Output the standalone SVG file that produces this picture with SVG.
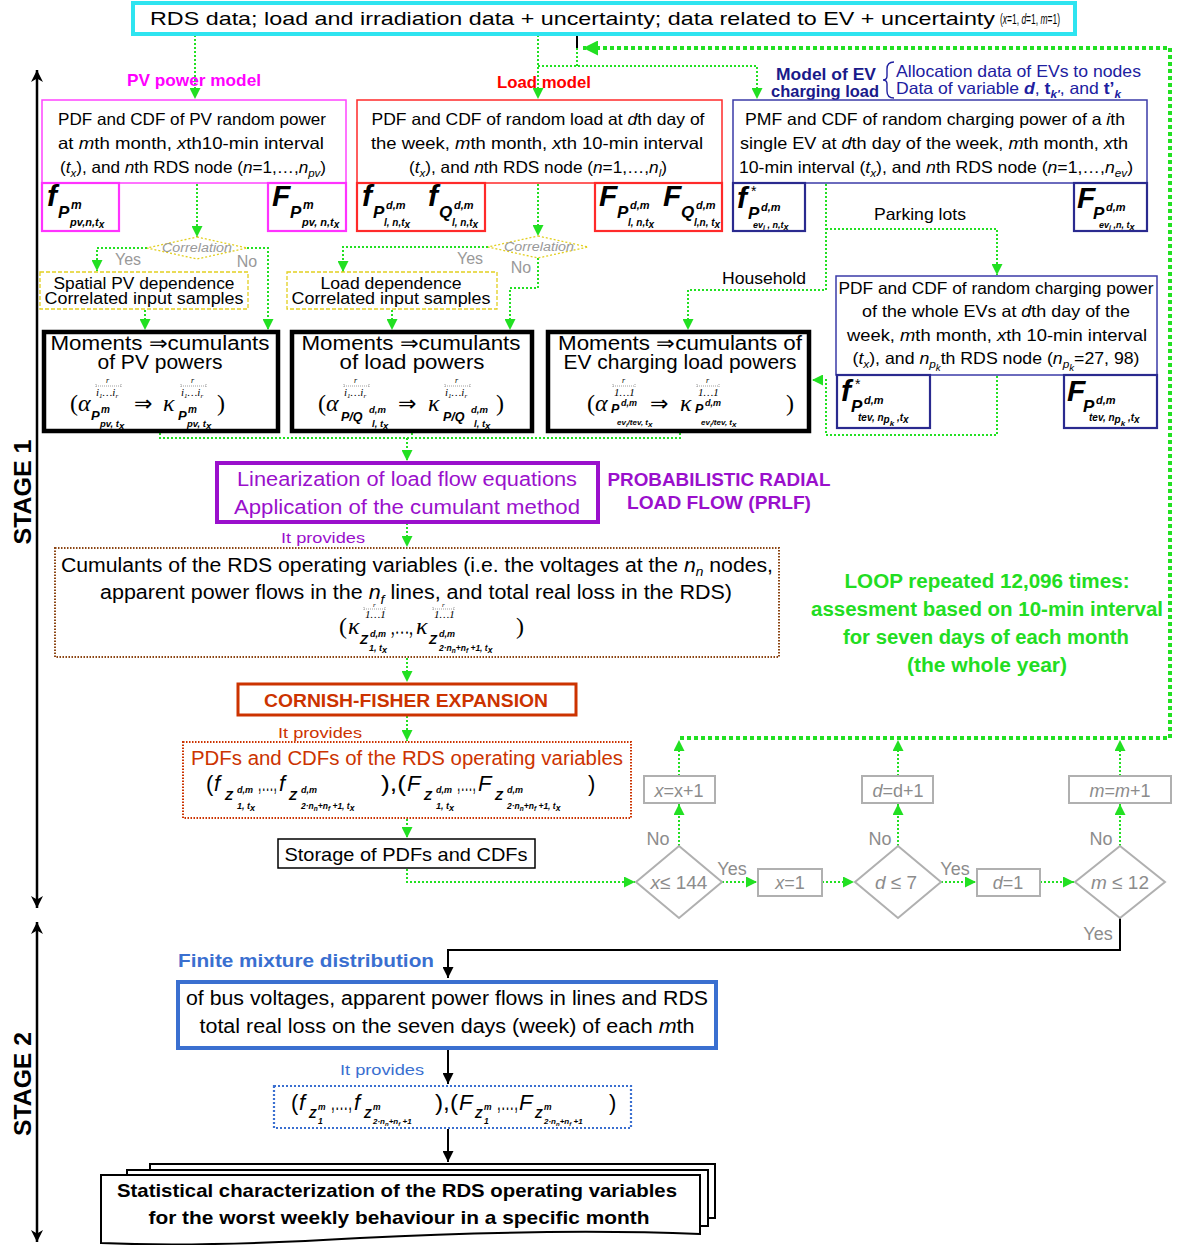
<svg xmlns="http://www.w3.org/2000/svg" width="1177" height="1245" viewBox="0 0 1177 1245">
<defs>
<marker id="ag" viewBox="0 0 10 10" refX="10" refY="5" markerWidth="11" markerHeight="11" markerUnits="userSpaceOnUse" orient="auto"><path d="M0,0L10,5L0,10z" fill="#22e022"/></marker>
<marker id="agb" viewBox="0 0 10 10" refX="10" refY="5" markerWidth="15" markerHeight="15" markerUnits="userSpaceOnUse" orient="auto"><path d="M0,0L10,5L0,10z" fill="#22e022"/></marker>
<marker id="ak" viewBox="0 0 10 10" refX="10" refY="5" markerWidth="11" markerHeight="11" markerUnits="userSpaceOnUse" orient="auto"><path d="M0,0L10,5L0,10z" fill="#000"/></marker>
<marker id="ks" viewBox="0 0 10 10" refX="10" refY="5" markerWidth="12" markerHeight="12" markerUnits="userSpaceOnUse" orient="auto-start-reverse"><path d="M0,0L10,5L0,10L3,5z" fill="#000"/></marker>
</defs>
<style>
text{font-family:"Liberation Sans",Arial,sans-serif;fill:#000}
.c{text-anchor:middle}
.e{text-anchor:end}
.i{font-style:italic}
.b{font-weight:bold}
.bi{font-weight:bold;font-style:italic}
.m{font-family:"Liberation Serif","DejaVu Serif",serif;font-style:italic}
.g{fill:none;stroke:#22e022;stroke-width:2;stroke-dasharray:2 2}
.gt{fill:none;stroke:#22e022;stroke-width:4;stroke-dasharray:4 3}
.k{fill:none;stroke:#000;stroke-width:2}
.ob{fill:none;stroke:#888;stroke-width:0.8;stroke-dasharray:1 1}
.gr{fill:#8c8c8c}
.gbox{fill:#fff;stroke:#b0b0b0;stroke-width:2}
.pv{fill:#fff;stroke:#ff44ff;stroke-width:1.5}
.pv2{fill:#fff;stroke:#ff33ff;stroke-width:2.2}
.ld{fill:#fff;stroke:#ff2a2a;stroke-width:1.5}
.ld2{fill:#fff;stroke:#ff2a2a;stroke-width:2.2}
.ev{fill:#fff;stroke:#3b3ba8;stroke-width:1.5}
.ev2{fill:#fff;stroke:#2a2a8f;stroke-width:2.2}
.ydash{fill:#fff;stroke:#e2cf20;stroke-width:1.3;stroke-dasharray:4 2}
.mom{fill:#fff;stroke:#000;stroke-width:4.5}
</style>
<rect width="1177" height="1245" fill="#fff"/>

<!-- stage arrows -->
<g id="stage1">
<line x1="37" y1="70" x2="37" y2="908" stroke="#000" stroke-width="2.5" marker-start="url(#ks)" marker-end="url(#ks)"/>
<text class="c b" font-size="24" transform="translate(31,492) rotate(-90)" textLength="105" lengthAdjust="spacingAndGlyphs">STAGE 1</text>
</g>
<g id="stage2">
<line x1="37" y1="922" x2="37" y2="1242" stroke="#000" stroke-width="2.5" marker-start="url(#ks)" marker-end="url(#ks)"/>
<text class="c b" font-size="24" transform="translate(31,1084) rotate(-90)" textLength="104" lengthAdjust="spacingAndGlyphs">STAGE 2</text>
</g>

<!-- connectors -->
<g id="connectors">
<path class="g" d="M195,35V99" marker-end="url(#ag)"/>
<path class="g" d="M538,35V99" marker-end="url(#ag)"/>
<path class="k" d="M577,35V48" stroke-width="1.5"/>
<path class="g" d="M577,48V66M538,66H757V99" marker-end="url(#ag)"/>
<path class="gt" d="M680,738H1170V48H583" marker-end="url(#agb)"/>
<path class="g" d="M679,776V740" marker-end="url(#ag)"/>
<path class="g" d="M898,776V740" marker-end="url(#ag)"/>
<path class="g" d="M1120,776V740" marker-end="url(#ag)"/>
<path class="g" d="M679,846V804" marker-end="url(#ag)"/>
<path class="g" d="M898,846V804" marker-end="url(#ag)"/>
<path class="g" d="M1120,846V804" marker-end="url(#ag)"/>
<path class="g" d="M722,882H757" marker-end="url(#ag)"/>
<path class="g" d="M822,882H854" marker-end="url(#ag)"/>
<path class="g" d="M941,882H976" marker-end="url(#ag)"/>
<path class="g" d="M1040,882H1074" marker-end="url(#ag)"/>
<path class="g" d="M407,869V882H635" marker-end="url(#ag)"/>
<path class="k" d="M1120,918V950H448V978" marker-end="url(#ak)"/>
<path class="k" d="M448,1050V1084" marker-end="url(#ak)"/>
<path class="k" d="M448,1129V1162" marker-end="url(#ak)"/>
<path class="g" d="M197,184V237" marker-end="url(#ag)"/>
<path class="g" d="M147,248H97V271" marker-end="url(#ag)"/>
<path class="g" d="M247,248H268V330" marker-end="url(#ag)"/>
<path class="g" d="M145,310V330" marker-end="url(#ag)"/>
<path class="g" d="M538,184V236" marker-end="url(#ag)"/>
<path class="g" d="M488,247H343V272" marker-end="url(#ag)"/>
<path class="g" d="M538,258V288H510V330" marker-end="url(#ag)"/>
<path class="g" d="M392,310V330" marker-end="url(#ag)"/>
<path class="g" d="M826,184V290H688V330" marker-end="url(#ag)"/>
<path class="g" d="M826,229H997V275" marker-end="url(#ag)"/>
<path class="g" d="M997,376V435H826V380H812" marker-end="url(#ag)"/>
<path class="g" d="M160,433V438H680V433M412,433V438"/>
<path class="g" d="M407,438V461" marker-end="url(#ag)"/>
<path class="g" d="M407,523V547" marker-end="url(#ag)"/>
<path class="g" d="M407,658V682" marker-end="url(#ag)"/>
<path class="g" d="M407,716V741" marker-end="url(#ag)"/>
<path class="g" d="M407,819V838" marker-end="url(#ag)"/>
</g>

<!-- top input -->
<g id="input">
<rect x="133" y="3" width="942" height="31" fill="#fff" stroke="#2ee4f0" stroke-width="4"/>
<text x="150" y="25" font-size="19" textLength="845" lengthAdjust="spacingAndGlyphs">RDS data; load and irradiation data + uncertainty; data related to EV + uncertainty</text>
<text x="1000" y="24" font-size="15" textLength="60" lengthAdjust="spacingAndGlyphs">(<tspan class="i">x</tspan>=1, <tspan class="i">d</tspan>=1, <tspan class="i">m</tspan>=1)</text>
</g>

<!-- labels of models -->
<g id="pv-label"><text class="c b" x="194" y="86" font-size="16.5" textLength="134" lengthAdjust="spacingAndGlyphs" style="fill:#ff00ff">PV power model</text></g>
<g id="load-label"><text class="c b" x="544" y="88" font-size="16.5" style="fill:#ff0000" textLength="94" lengthAdjust="spacingAndGlyphs">Load model</text></g>
<g id="ev-label">
<text class="e b" x="876" y="80" font-size="16.5" style="fill:#1a1a8a" textLength="100" lengthAdjust="spacingAndGlyphs">Model of EV</text>
<text class="e b" x="879" y="97" font-size="16.5" style="fill:#1a1a8a" textLength="108" lengthAdjust="spacingAndGlyphs">charging load</text>
<path d="M894,62Q887,62 887,69V76Q887,80 883,80Q887,80 887,84V91Q887,98 894,98" fill="none" stroke="#2020a0" stroke-width="1.4"/>
<text x="896" y="77" font-size="16.5" style="fill:#2020a0" textLength="245" lengthAdjust="spacingAndGlyphs">Allocation data of EVs to nodes</text>
<text x="896" y="94" font-size="16.5" style="fill:#2020a0" textLength="225" lengthAdjust="spacingAndGlyphs">Data of variable <tspan class="bi">d</tspan>, <tspan class="b">t</tspan><tspan class="bi" font-size="11" dy="4">k'</tspan><tspan dy="-4">, and </tspan><tspan class="b">t’</tspan><tspan class="bi" font-size="11" dy="4">k</tspan></text>
</g>

<!-- PV PDF box -->
<g id="pv-pdf">
<rect class="pv" x="42" y="100" width="304" height="83"/>
<text class="c" x="192" y="125" font-size="16.5" textLength="268" lengthAdjust="spacingAndGlyphs">PDF and CDF of PV random power</text>
<text class="c" x="191" y="149" font-size="16.5" textLength="266" lengthAdjust="spacingAndGlyphs">at <tspan class="i">m</tspan>th month, <tspan class="i">x</tspan>th10-min interval</text>
<text class="c" x="193" y="173" font-size="16.5" textLength="266" lengthAdjust="spacingAndGlyphs">(<tspan class="i">t</tspan><tspan class="i" font-size="11" dy="4">x</tspan><tspan dy="-4">), and </tspan><tspan class="i">n</tspan>th RDS node (<tspan class="i">n</tspan>=1,…,<tspan class="i">n</tspan><tspan class="i" font-size="11" dy="4">pv</tspan><tspan dy="-4">)</tspan></text>
</g>
<g id="pv-f">
<rect class="pv2" x="42" y="183" width="77" height="48"/>
<text class="bi" x="47" y="206" font-size="30">f</text>
<text class="bi" x="58" y="218" font-size="17">P</text>
<text class="bi" x="71" y="209" font-size="12">m</text>
<text class="bi" x="70" y="226" font-size="11">pv,n,t<tspan font-size="10" dy="2">x</tspan></text>
</g>
<g id="pv-F">
<rect class="pv2" x="268" y="183" width="78" height="48"/>
<text class="bi" x="272" y="206" font-size="30">F</text>
<text class="bi" x="290" y="218" font-size="17">P</text>
<text class="bi" x="303" y="209" font-size="12">m</text>
<text class="bi" x="302" y="226" font-size="11">pv, n,t<tspan font-size="10" dy="2">x</tspan></text>
</g>

<!-- Load PDF box -->
<g id="load-pdf">
<rect class="ld" x="357" y="100" width="365" height="83"/>
<text class="c" x="538" y="125" font-size="16.5" textLength="333" lengthAdjust="spacingAndGlyphs">PDF and CDF of random load at <tspan class="i">d</tspan>th day of</text>
<text class="c" x="537" y="149" font-size="16.5" textLength="332" lengthAdjust="spacingAndGlyphs">the week, <tspan class="i">m</tspan>th month, <tspan class="i">x</tspan>th 10-min interval</text>
<text class="c" x="538" y="173" font-size="16.5" textLength="258" lengthAdjust="spacingAndGlyphs">(<tspan class="i">t</tspan><tspan class="i" font-size="11" dy="4">x</tspan><tspan dy="-4">), and </tspan><tspan class="i">n</tspan>th RDS node (<tspan class="i">n</tspan>=1,…,<tspan class="i">n</tspan><tspan class="i" font-size="11" dy="4">l</tspan><tspan dy="-4">)</tspan></text>
</g>
<g id="load-f">
<rect class="ld2" x="357" y="183" width="128" height="48"/>
<text class="bi" x="362" y="206" font-size="30">f</text>
<text class="bi" x="373" y="218" font-size="17">P</text>
<text class="bi" x="386" y="209" font-size="11">d,m</text>
<text class="bi" x="384" y="226" font-size="10">l, n,t<tspan font-size="10" dy="2">x</tspan></text>
<text class="bi" x="428" y="206" font-size="30">f</text>
<text class="bi" x="439" y="218" font-size="17">Q</text>
<text class="bi" x="454" y="209" font-size="11">d,m</text>
<text class="bi" x="452" y="226" font-size="10">l, n,t<tspan font-size="10" dy="2">x</tspan></text>
</g>
<g id="load-F">
<rect class="ld2" x="595" y="183" width="127" height="48"/>
<text class="bi" x="599" y="206" font-size="30">F</text>
<text class="bi" x="617" y="218" font-size="17">P</text>
<text class="bi" x="630" y="209" font-size="11">d,m</text>
<text class="bi" x="628" y="226" font-size="10">l, n,t<tspan font-size="10" dy="2">x</tspan></text>
<text class="bi" x="663" y="206" font-size="30">F</text>
<text class="bi" x="681" y="218" font-size="17">Q</text>
<text class="bi" x="696" y="209" font-size="11">d,m</text>
<text class="bi" x="694" y="226" font-size="10">l,n, t<tspan font-size="10" dy="2">x</tspan></text>
</g>

<!-- EV PMF box -->
<g id="ev-pmf">
<rect class="ev" x="733" y="100" width="414" height="83"/>
<text class="c" x="935" y="125" font-size="16.5" textLength="380" lengthAdjust="spacingAndGlyphs">PMF and CDF of random charging power of a <tspan class="i">i</tspan>th</text>
<text class="c" x="934" y="149" font-size="16.5" textLength="388" lengthAdjust="spacingAndGlyphs">single EV at <tspan class="i">d</tspan>th day of the week, <tspan class="i">m</tspan>th month, <tspan class="i">x</tspan>th</text>
<text class="c" x="936" y="173" font-size="16.5" textLength="394" lengthAdjust="spacingAndGlyphs">10-min interval (<tspan class="i">t</tspan><tspan class="i" font-size="11" dy="4">x</tspan><tspan dy="-4">), and </tspan><tspan class="i">n</tspan>th RDS node (<tspan class="i">n</tspan>=1,…,<tspan class="i">n</tspan><tspan class="i" font-size="11" dy="4">ev</tspan><tspan dy="-4">)</tspan></text>
</g>
<g id="ev-f">
<rect class="ev2" x="733" y="183" width="72" height="48"/>
<text class="bi" x="737" y="208" font-size="30">f</text>
<text x="751" y="196" font-size="14">*</text>
<text class="bi" x="748" y="219" font-size="17">P</text>
<text class="bi" x="761" y="211" font-size="11">d,m</text>
<text class="bi" x="753" y="228" font-size="9">ev<tspan font-size="7" dy="2">i</tspan><tspan dy="-2"> , n,t</tspan><tspan font-size="9" dy="2">x</tspan></text>
</g>
<g id="ev-F">
<rect class="ev2" x="1074" y="183" width="73" height="48"/>
<text class="bi" x="1077" y="208" font-size="30">F</text>
<text class="bi" x="1093" y="219" font-size="17">P</text>
<text class="bi" x="1106" y="211" font-size="11">d,m</text>
<text class="bi" x="1099" y="228" font-size="9">ev<tspan font-size="7" dy="2">i</tspan><tspan dy="-2"> ,n, t</tspan><tspan font-size="9" dy="2">x</tspan></text>
</g>

<!-- correlation decisions -->
<g id="pv-corr">
<polygon class="ydash" points="197,237 247,248 197,259 147,248" style="stroke-dasharray:2 2"/>
<text class="c i" x="197" y="252" font-size="12.5" style="fill:#999" textLength="70" lengthAdjust="spacingAndGlyphs">Correlation</text>
<text class="c" x="128" y="265" font-size="16" style="fill:#999">Yes</text>
<text class="c" x="247" y="267" font-size="16" style="fill:#999">No</text>
</g>
<g id="load-corr">
<polygon class="ydash" points="538,236 588,247 538,258 488,247" style="stroke-dasharray:2 2"/>
<text class="c i" x="539" y="251" font-size="12.5" style="fill:#999" textLength="70" lengthAdjust="spacingAndGlyphs">Correlation</text>
<text class="c" x="470" y="264" font-size="16" style="fill:#999">Yes</text>
<text class="c" x="521" y="273" font-size="16" style="fill:#999">No</text>
</g>
<g id="pv-dep">
<rect class="ydash" x="40" y="272" width="208" height="37"/>
<text class="c" x="144" y="289" font-size="16" textLength="181" lengthAdjust="spacingAndGlyphs">Spatial PV dependence</text>
<text class="c" x="144" y="304" font-size="16" textLength="199" lengthAdjust="spacingAndGlyphs">Correlated input samples</text>
</g>
<g id="load-dep">
<rect class="ydash" x="287" y="272" width="210" height="37"/>
<text class="c" x="391" y="289" font-size="16" textLength="141" lengthAdjust="spacingAndGlyphs">Load dependence</text>
<text class="c" x="391" y="304" font-size="16" textLength="199" lengthAdjust="spacingAndGlyphs">Correlated input samples</text>
</g>

<!-- EV branches -->
<g id="ev-branch-labels">
<text class="c" x="764" y="284" font-size="16.5" textLength="84" lengthAdjust="spacingAndGlyphs">Household</text>
<text class="c" x="920" y="220" font-size="16.5" textLength="92" lengthAdjust="spacingAndGlyphs">Parking lots</text>
</g>
<g id="tev-pdf">
<rect class="ev" x="836" y="276" width="321" height="99"/>
<text class="c" x="996" y="294" font-size="16.5" textLength="315" lengthAdjust="spacingAndGlyphs">PDF and CDF of random charging power</text>
<text class="c" x="996" y="317" font-size="16.5" textLength="268" lengthAdjust="spacingAndGlyphs">of the whole EVs at <tspan class="i">d</tspan>th day of the</text>
<text class="c" x="997" y="341" font-size="16.5" textLength="300" lengthAdjust="spacingAndGlyphs">week, <tspan class="i">m</tspan>th month, <tspan class="i">x</tspan>th 10-min interval</text>
<text class="c" x="996" y="364" font-size="16.5" textLength="287" lengthAdjust="spacingAndGlyphs">(<tspan class="i">t</tspan><tspan class="i" font-size="11" dy="4">x</tspan><tspan dy="-4">), and </tspan><tspan class="i">n</tspan><tspan class="i" font-size="11" dy="4">p</tspan><tspan class="i" font-size="9" dy="3">k</tspan><tspan dy="-7">th RDS node (</tspan><tspan class="i">n</tspan><tspan class="i" font-size="11" dy="4">p</tspan><tspan class="i" font-size="9" dy="3">k</tspan><tspan dy="-7">=27, 98)</tspan></text>
</g>
<g id="tev-f">
<rect class="ev2" x="837" y="375" width="93" height="53"/>
<text class="bi" x="841" y="401" font-size="30">f</text>
<text x="855" y="389" font-size="14">*</text>
<text class="bi" x="851" y="412" font-size="17">P</text>
<text class="bi" x="864" y="404" font-size="11">d,m</text>
<text class="bi" x="858" y="421" font-size="10">tev, n<tspan font-size="10" dy="2">p</tspan><tspan font-size="8" dy="3">k</tspan><tspan dy="-5"> ,t</tspan><tspan dy="2">x</tspan></text>
</g>
<g id="tev-F">
<rect class="ev2" x="1064" y="375" width="93" height="53"/>
<text class="bi" x="1067" y="401" font-size="30">F</text>
<text class="bi" x="1083" y="412" font-size="17">P</text>
<text class="bi" x="1096" y="404" font-size="11">d,m</text>
<text class="bi" x="1089" y="421" font-size="10">tev, n<tspan font-size="10" dy="2">p</tspan><tspan font-size="8" dy="3">k</tspan><tspan dy="-5"> ,t</tspan><tspan dy="2">x</tspan></text>
</g>

<!-- Moments boxes -->
<g id="mom-pv">
<rect class="mom" x="44" y="332" width="234" height="99"/>
<text class="c" x="160" y="350" font-size="20" textLength="219" lengthAdjust="spacingAndGlyphs">Moments ⇒cumulants</text>
<text class="c" x="160" y="369" font-size="20" textLength="125" lengthAdjust="spacingAndGlyphs">of PV powers</text>
<text class="m" x="70" y="411" font-size="24"><tspan style="font-style:normal">(</tspan>α</text>
<text class="m" x="96" y="396" font-size="11">i<tspan font-size="7" dy="2">1</tspan><tspan dy="-2">…i</tspan><tspan font-size="7" dy="2">r</tspan></text>
<path class="ob" d="M96,386H121M96,384V388M121,384V388"/>
<text class="m" x="106" y="383" font-size="8">r</text>
<text class="bi" x="91" y="420" font-size="13">P</text>
<text class="bi" x="101" y="413" font-size="10">m</text>
<text class="bi" x="100" y="427" font-size="9.5">pv, t<tspan dy="2">x</tspan></text>
<text x="134" y="411" font-size="22" style="font-family:'DejaVu Sans',sans-serif">⇒</text>
<text class="m" x="163" y="411" font-size="24">κ</text>
<text class="m" x="181" y="396" font-size="11">i<tspan font-size="7" dy="2">1</tspan><tspan dy="-2">…i</tspan><tspan font-size="7" dy="2">r</tspan></text>
<path class="ob" d="M181,386H206M181,384V388M206,384V388"/>
<text class="m" x="191" y="383" font-size="8">r</text>
<text class="bi" x="178" y="420" font-size="13">P</text>
<text class="bi" x="188" y="413" font-size="10">m</text>
<text class="bi" x="187" y="427" font-size="9.5">pv, t<tspan dy="2">x</tspan></text>
<text x="217" y="411" font-size="24" style="font-family:'Liberation Serif',serif">)</text>
</g>
<g id="mom-load">
<rect class="mom" x="292" y="332" width="240" height="99"/>
<text class="c" x="411" y="350" font-size="20" textLength="219" lengthAdjust="spacingAndGlyphs">Moments ⇒cumulants</text>
<text class="c" x="412" y="369" font-size="20" textLength="145" lengthAdjust="spacingAndGlyphs">of load powers</text>
<text class="m" x="318" y="411" font-size="24"><tspan style="font-style:normal">(</tspan>α</text>
<text class="m" x="344" y="396" font-size="11">i<tspan font-size="7" dy="2">1</tspan><tspan dy="-2">…i</tspan><tspan font-size="7" dy="2">r</tspan></text>
<path class="ob" d="M344,386H369M344,384V388M369,384V388"/>
<text class="m" x="354" y="383" font-size="8">r</text>
<text class="bi" x="341" y="421" font-size="12.5">P/Q</text>
<text class="bi" x="369" y="413" font-size="9.5">d,m</text>
<text class="bi" x="372" y="427" font-size="9.5">l, t<tspan dy="2">x</tspan></text>
<text x="398" y="411" font-size="22" style="font-family:'DejaVu Sans',sans-serif">⇒</text>
<text class="m" x="428" y="411" font-size="24">κ</text>
<text class="m" x="445" y="396" font-size="11">i<tspan font-size="7" dy="2">1</tspan><tspan dy="-2">…i</tspan><tspan font-size="7" dy="2">r</tspan></text>
<path class="ob" d="M445,386H470M445,384V388M470,384V388"/>
<text class="m" x="455" y="383" font-size="8">r</text>
<text class="bi" x="443" y="421" font-size="12.5">P/Q</text>
<text class="bi" x="471" y="413" font-size="9.5">d,m</text>
<text class="bi" x="474" y="427" font-size="9.5">l, t<tspan dy="2">x</tspan></text>
<text x="496" y="411" font-size="24" style="font-family:'Liberation Serif',serif">)</text>
</g>
<g id="mom-ev">
<rect class="mom" x="548" y="332" width="261" height="99"/>
<text class="c" x="680" y="350" font-size="20" textLength="244" lengthAdjust="spacingAndGlyphs">Moments ⇒cumulants of</text>
<text class="c" x="680" y="369" font-size="20" textLength="233" lengthAdjust="spacingAndGlyphs">EV charging load powers</text>
<text class="m" x="587" y="411" font-size="24"><tspan style="font-style:normal">(</tspan>α</text>
<text class="m" x="614" y="396" font-size="11">1…1</text>
<path class="ob" d="M613,386H635M613,384V388M635,384V388"/>
<text class="m" x="622" y="383" font-size="8">r</text>
<text class="bi" x="611" y="413" font-size="12.5">P</text>
<text class="bi" x="621" y="406" font-size="9">d,m</text>
<text class="bi" x="617" y="425" font-size="8">ev<tspan font-size="6" dy="2">i</tspan><tspan dy="-2">/tev, t</tspan><tspan dy="2">x</tspan></text>
<text x="650" y="411" font-size="22" style="font-family:'DejaVu Sans',sans-serif">⇒</text>
<text class="m" x="680" y="411" font-size="24">κ</text>
<text class="m" x="698" y="396" font-size="11">1…1</text>
<path class="ob" d="M697,386H719M697,384V388M719,384V388"/>
<text class="m" x="706" y="383" font-size="8">r</text>
<text class="bi" x="695" y="413" font-size="12.5">P</text>
<text class="bi" x="705" y="406" font-size="9">d,m</text>
<text class="bi" x="701" y="425" font-size="8">ev<tspan font-size="6" dy="2">i</tspan><tspan dy="-2">/tev, t</tspan><tspan dy="2">x</tspan></text>
<text x="786" y="411" font-size="24" style="font-family:'Liberation Serif',serif">)</text>
</g>

<!-- PRLF -->
<g id="prlf">
<rect x="217" y="463" width="381" height="59" fill="#fff" stroke="#9a10cc" stroke-width="4"/>
<text class="c" x="407" y="486" font-size="20" style="fill:#9a10cc" textLength="340" lengthAdjust="spacingAndGlyphs">Linearization of load flow equations</text>
<text class="c" x="407" y="514" font-size="20" style="fill:#9a10cc" textLength="346" lengthAdjust="spacingAndGlyphs">Application of the cumulant method</text>
</g>
<g id="prlf-label">
<text class="c b" x="719" y="486" font-size="18.5" style="fill:#9a10cc" textLength="223" lengthAdjust="spacingAndGlyphs">PROBABILISTIC RADIAL</text>
<text class="c b" x="719" y="509" font-size="18.5" style="fill:#9a10cc" textLength="184" lengthAdjust="spacingAndGlyphs">LOAD FLOW (PRLF)</text>
<text class="c" x="323" y="543" font-size="15.5" style="fill:#9a10cc" textLength="84" lengthAdjust="spacingAndGlyphs">It provides</text>
</g>

<!-- cumulants -->
<g id="cumulants">
<rect x="55" y="548" width="724" height="109" fill="#fff" stroke="#8b4513" stroke-width="2" stroke-dasharray="1.5 1.5"/>
<text class="c" x="417" y="572" font-size="20" textLength="712" lengthAdjust="spacingAndGlyphs">Cumulants of the RDS operating variables (i.e. the voltages at the <tspan class="i">n</tspan><tspan class="i" font-size="13" dy="4">n</tspan><tspan dy="-4"> nodes,</tspan></text>
<text class="c" x="416" y="599" font-size="20" textLength="632" lengthAdjust="spacingAndGlyphs">apparent power flows in the <tspan class="i">n</tspan><tspan class="i" font-size="13" dy="5">f</tspan><tspan dy="-5"> lines, and total real loss in the RDS)</tspan></text>
<text x="339" y="634" font-size="24" style="font-family:'Liberation Serif',serif">(</text>
<text class="m" x="348" y="634" font-size="24">κ</text>
<text class="m" x="365" y="618" font-size="11">1…1</text>
<path class="ob" d="M364,609H385M364,607V611M385,607V611"/>
<text class="m" x="373" y="607" font-size="7">r</text>
<text class="bi" x="360" y="644" font-size="13">Z</text>
<text class="bi" x="370" y="637" font-size="9">d,m</text>
<text class="bi" x="369" y="651" font-size="9">1, t<tspan dy="2">x</tspan></text>
<text x="391" y="634" font-size="24" textLength="22" lengthAdjust="spacingAndGlyphs" style="font-family:'Liberation Serif',serif">,…,</text>
<text class="m" x="416" y="634" font-size="24">κ</text>
<text class="m" x="434" y="618" font-size="11">1…1</text>
<path class="ob" d="M433,609H454M433,607V611M454,607V611"/>
<text class="m" x="442" y="607" font-size="7">r</text>
<text class="bi" x="429" y="644" font-size="13">Z</text>
<text class="bi" x="439" y="637" font-size="9">d,m</text>
<text class="bi" x="439" y="651" font-size="8.5">2·n<tspan font-size="6.5" dy="2">n</tspan><tspan dy="-2">+n</tspan><tspan font-size="6.5" dy="2">f</tspan><tspan dy="-2"> +1, t</tspan><tspan dy="2">x</tspan></text>
<text x="516" y="634" font-size="24" style="font-family:'Liberation Serif',serif">)</text>
</g>

<!-- Cornish-Fisher -->
<g id="cornish">
<rect x="238" y="684" width="338" height="31" fill="#fff" stroke="#cc3300" stroke-width="3"/>
<text class="c b" x="406" y="707" font-size="18.5" style="fill:#cc3300" textLength="284" lengthAdjust="spacingAndGlyphs">CORNISH-FISHER EXPANSION</text>
<text class="c" x="320" y="738" font-size="15.5" style="fill:#cc3300" textLength="84" lengthAdjust="spacingAndGlyphs">It provides</text>
</g>
<g id="pdfs">
<rect x="183" y="742" width="448" height="76" fill="#fff" stroke="#cc3300" stroke-width="2" stroke-dasharray="1.5 1.5"/>
<text class="c" x="407" y="765" font-size="20" style="fill:#cc3300" textLength="432" lengthAdjust="spacingAndGlyphs">PDFs and CDFs of the RDS operating variables</text>
<text x="206" y="791" font-size="22">(</text>
<text class="i" x="214" y="791" font-size="22">f</text>
<text class="bi" x="225" y="800" font-size="13">Z</text>
<text class="bi" x="237" y="793" font-size="9">d,m</text>
<text class="bi" x="237" y="809" font-size="9">1, t<tspan dy="2">x</tspan></text>
<text x="258" y="791" font-size="22" textLength="19" lengthAdjust="spacingAndGlyphs">,…,</text>
<text class="i" x="279" y="791" font-size="22">f</text>
<text class="bi" x="289" y="800" font-size="13">Z</text>
<text class="bi" x="301" y="793" font-size="9">d,m</text>
<text class="bi" x="301" y="809" font-size="8.5">2·n<tspan font-size="6.5" dy="2">n</tspan><tspan dy="-2">+n</tspan><tspan font-size="6.5" dy="2">f</tspan><tspan dy="-2"> +1, t</tspan><tspan dy="2">x</tspan></text>
<text x="381" y="791" font-size="22" textLength="25" lengthAdjust="spacingAndGlyphs">),(</text>
<text class="i" x="407" y="791" font-size="22">F</text>
<text class="bi" x="424" y="800" font-size="13">Z</text>
<text class="bi" x="436" y="793" font-size="9">d,m</text>
<text class="bi" x="436" y="809" font-size="9">1, t<tspan dy="2">x</tspan></text>
<text x="457" y="791" font-size="22" textLength="19" lengthAdjust="spacingAndGlyphs">,…,</text>
<text class="i" x="478" y="791" font-size="22">F</text>
<text class="bi" x="495" y="800" font-size="13">Z</text>
<text class="bi" x="507" y="793" font-size="9">d,m</text>
<text class="bi" x="507" y="809" font-size="8.5">2·n<tspan font-size="6.5" dy="2">n</tspan><tspan dy="-2">+n</tspan><tspan font-size="6.5" dy="2">f</tspan><tspan dy="-2"> +1, t</tspan><tspan dy="2">x</tspan></text>
<text x="588" y="791" font-size="22">)</text>
</g>
<g id="storage">
<rect x="278" y="839" width="257" height="29" fill="#fff" stroke="#000" stroke-width="1.5"/>
<text class="c" x="406" y="861" font-size="19" textLength="243" lengthAdjust="spacingAndGlyphs">Storage of PDFs and CDFs</text>
</g>

<!-- loop text -->
<g id="loop-note">
<text class="c b" x="987" y="588" font-size="19.5" style="fill:#22dd22" textLength="285" lengthAdjust="spacingAndGlyphs">LOOP repeated 12,096 times:</text>
<text class="c b" x="987" y="616" font-size="19.5" style="fill:#22dd22" textLength="352" lengthAdjust="spacingAndGlyphs">assesment based on 10-min interval</text>
<text class="c b" x="986" y="644" font-size="19.5" style="fill:#22dd22" textLength="286" lengthAdjust="spacingAndGlyphs">for seven days of each month</text>
<text class="c b" x="987" y="672" font-size="19.5" style="fill:#22dd22" textLength="160" lengthAdjust="spacingAndGlyphs">(the whole year)</text>
</g>

<!-- loop nodes -->
<g id="dec-x">
<polygon class="gbox" points="679,846 722,882 679,918 636,882"/>
<text class="c gr" x="679" y="889" font-size="19"><tspan class="i">x</tspan>≤ 144</text>
<text class="c gr" x="658" y="845" font-size="18">No</text>
<text class="c gr" x="732" y="875" font-size="18">Yes</text>
</g>
<g id="inc-x">
<rect class="gbox" x="644" y="776" width="71" height="27"/>
<text class="c gr" x="679" y="797" font-size="18"><tspan class="i">x</tspan>=x+1</text>
</g>
<g id="reset-x">
<rect class="gbox" x="758" y="869" width="64" height="27"/>
<text class="c gr" x="790" y="889" font-size="18"><tspan class="i">x</tspan>=1</text>
</g>
<g id="dec-d">
<polygon class="gbox" points="898,846 941,882 898,918 855,882"/>
<text class="c gr" x="896" y="889" font-size="19"><tspan class="i">d</tspan> ≤ 7</text>
<text class="c gr" x="880" y="845" font-size="18">No</text>
<text class="c gr" x="955" y="875" font-size="18">Yes</text>
</g>
<g id="inc-d">
<rect class="gbox" x="862" y="776" width="71" height="27"/>
<text class="c gr" x="898" y="797" font-size="18"><tspan class="i">d</tspan>=d+1</text>
</g>
<g id="reset-d">
<rect class="gbox" x="977" y="869" width="63" height="27"/>
<text class="c gr" x="1008" y="889" font-size="18"><tspan class="i">d</tspan>=1</text>
</g>
<g id="dec-m">
<polygon class="gbox" points="1120,846 1165,882 1120,918 1075,882"/>
<text class="c gr" x="1120" y="889" font-size="19"><tspan class="i">m</tspan> ≤ 12</text>
<text class="c gr" x="1101" y="845" font-size="18">No</text>
<text class="c gr" x="1098" y="940" font-size="18">Yes</text>
</g>
<g id="inc-m">
<rect class="gbox" x="1069" y="776" width="102" height="27"/>
<text class="c gr" x="1120" y="797" font-size="18"><tspan class="i">m</tspan>=<tspan class="i">m</tspan>+1</text>
</g>

<!-- stage 2 -->
<g id="finite">
<text class="b" x="178" y="967" font-size="18.5" style="fill:#3a6fd0" textLength="256" lengthAdjust="spacingAndGlyphs">Finite mixture distribution</text>
<rect x="178" y="982" width="538" height="66" fill="#fff" stroke="#3a6fd0" stroke-width="4"/>
<text class="c" x="447" y="1005" font-size="20" textLength="522" lengthAdjust="spacingAndGlyphs">of bus voltages, apparent power flows in lines and RDS</text>
<text class="c" x="447" y="1033" font-size="20" textLength="495" lengthAdjust="spacingAndGlyphs">total real loss on the seven days (week) of each <tspan class="i">m</tspan>th</text>
<text class="c" x="382" y="1075" font-size="15.5" style="fill:#3a6fd0" textLength="84" lengthAdjust="spacingAndGlyphs">It provides</text>
</g>
<g id="monthly-pdfs">
<rect x="274" y="1086" width="357" height="42" fill="#fff" stroke="#3a6fd0" stroke-width="2.2" stroke-dasharray="2 2"/>
<text x="291" y="1110" font-size="22">(</text>
<text class="i" x="299" y="1110" font-size="22">f</text>
<text class="bi" x="309" y="1118" font-size="12">Z</text>
<text class="bi" x="318" y="1110" font-size="8.5">m</text>
<text class="bi" x="318" y="1124" font-size="8.5">1</text>
<text x="331" y="1110" font-size="22" textLength="21" lengthAdjust="spacingAndGlyphs">,…,</text>
<text class="i" x="354" y="1110" font-size="22">f</text>
<text class="bi" x="364" y="1118" font-size="12">Z</text>
<text class="bi" x="373" y="1110" font-size="8.5">m</text>
<text class="bi" x="373" y="1124" font-size="8">2·n<tspan font-size="6" dy="2">n</tspan><tspan dy="-2">+n</tspan><tspan font-size="6" dy="2">f</tspan><tspan dy="-2"> +1</tspan></text>
<text x="435" y="1110" font-size="22" textLength="23" lengthAdjust="spacingAndGlyphs">),(</text>
<text class="i" x="459" y="1110" font-size="22">F</text>
<text class="bi" x="475" y="1118" font-size="12">Z</text>
<text class="bi" x="484" y="1110" font-size="8.5">m</text>
<text class="bi" x="484" y="1124" font-size="8.5">1</text>
<text x="497" y="1110" font-size="22" textLength="21" lengthAdjust="spacingAndGlyphs">,…,</text>
<text class="i" x="519" y="1110" font-size="22">F</text>
<text class="bi" x="535" y="1118" font-size="12">Z</text>
<text class="bi" x="544" y="1110" font-size="8.5">m</text>
<text class="bi" x="544" y="1124" font-size="8">2·n<tspan font-size="6" dy="2">n</tspan><tspan dy="-2">+n</tspan><tspan font-size="6" dy="2">f</tspan><tspan dy="-2"> +1</tspan></text>
<text x="609" y="1110" font-size="22">)</text>
</g>
<g id="worst-week">
<path d="M150,1170V1164H715V1218H708" fill="#fff" stroke="#000" stroke-width="2"/>
<path d="M127,1175V1170H708V1226H700" fill="#fff" stroke="#000" stroke-width="2"/>
<path d="M101,1175H700V1234C600,1230 480,1232 360,1238C260,1244 170,1246 101,1243Z" fill="#fff" stroke="#000" stroke-width="2"/>
<text class="c b" x="397" y="1197" font-size="18.5" textLength="560" lengthAdjust="spacingAndGlyphs">Statistical characterization of the RDS operating variables</text>
<text class="c b" x="399" y="1224" font-size="18.5" textLength="501" lengthAdjust="spacingAndGlyphs">for the worst weekly  behaviour in a specific month</text>
</g>
</svg>
